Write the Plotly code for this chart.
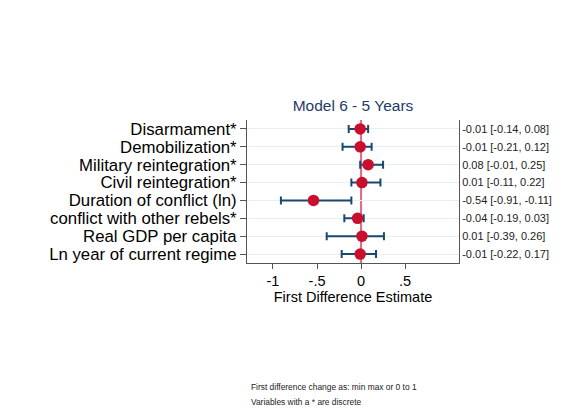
import plotly.graph_objects as go

# Coefficient data: first-difference estimates with 95% intervals
variables = [
    "Disarmament*",
    "Demobilization*",
    "Military reintegration*",
    "Civil reintegration*",
    "Duration of conflict (ln)",
    "conflict with other rebels*",
    "Real GDP per capita",
    "Ln year of current regime",
]
estimates = [-0.01, -0.01, 0.08, 0.01, -0.54, -0.04, 0.01, -0.01]
ci_low = [-0.14, -0.21, -0.01, -0.11, -0.91, -0.19, -0.39, -0.22]
ci_high = [0.08, 0.12, 0.25, 0.22, -0.11, 0.03, 0.26, 0.17]

x_tick_vals = [-1, -0.5, 0, 0.5]
x_tick_text = ["-1", "-.5", "0", ".5"]

positions = list(range(1, len(variables) + 1))
ci_labels = [f"{e:.2f} [{lo:.2f}, {hi:.2f}]" for e, lo, hi in zip(estimates, ci_low, ci_high)]

FONT = "Liberation Sans, Arial, Helvetica, sans-serif"
NAVY = "#1a476f"
RED = "#c8102e"

fig = go.Figure()

fig.add_vline(x=0, line=dict(color="rgba(214,40,70,0.7)", width=2), layer="below")

fig.add_trace(go.Scatter(
    x=estimates,
    y=positions,
    mode="markers",
    marker=dict(color=RED, size=11.5, line=dict(width=0)),
    error_x=dict(
        type="data",
        symmetric=False,
        array=[h - e for h, e in zip(ci_high, estimates)],
        arrayminus=[e - l for e, l in zip(estimates, ci_low)],
        color=NAVY,
        thickness=2,
        width=4,
    ),
    showlegend=False,
    hoverinfo="skip",
))

# invisible trace anchoring the right-hand label axis
fig.add_trace(go.Scatter(
    x=estimates, y=positions, yaxis="y2", mode="markers",
    marker=dict(opacity=0), showlegend=False, hoverinfo="skip",
))

fig.update_layout(
    width=574,
    height=419,
    margin=dict(l=247, r=115, t=120, b=156),
    paper_bgcolor="white",
    plot_bgcolor="white",
    font=dict(family=FONT, color="black"),
    title=dict(
        text="Model 6 - 5 Years",
        x=0.5, xref="paper", xanchor="center",
        y=1 - 106 / 419, yref="container", yanchor="middle",
        font=dict(size=15.5, color="#1f3a68", family=FONT),
    ),
    xaxis=dict(
        range=[-1.295, 1.112],
        tickvals=x_tick_vals,
        ticktext=x_tick_text,
        ticks="outside",
        ticklen=5,
        tickcolor="#555",
        tickfont=dict(size=14.5),
        showline=True,
        linecolor="#555",
        linewidth=1,
        showgrid=False,
        zeroline=False,
        title=dict(text="First Difference Estimate", font=dict(size=14.5), standoff=3),
    ),
    yaxis=dict(
        range=[len(variables) + 0.5, 0.5],
        tickvals=positions,
        ticktext=variables,
        ticks="outside",
        ticklen=6,
        tickcolor="#555",
        tickfont=dict(size=16.8),
        showline=True,
        linecolor="#555",
        linewidth=1,
        showgrid=True,
        gridcolor="#e6eff1",
        gridwidth=1,
        zeroline=False,
    ),
    yaxis2=dict(
        overlaying="y",
        side="right",
        range=[len(variables) + 0.5, 0.5],
        tickvals=positions,
        ticktext=ci_labels,
        ticks="",
        tickfont=dict(size=11, color="#222"),
        showline=True,
        linecolor="#555",
        linewidth=1,
        showgrid=False,
        zeroline=False,
    ),
    annotations=[
        dict(text="First difference change as: min max or 0 to 1",
             xref="paper", yref="paper", x=0.01, y=(262.7 - 387) / 143.2,
             xanchor="left", yanchor="middle", showarrow=False,
             font=dict(size=8.4, color="#222")),
        dict(text="Variables with a * are discrete",
             xref="paper", yref="paper", x=0.01, y=(262.7 - 402) / 143.2,
             xanchor="left", yanchor="middle", showarrow=False,
             font=dict(size=8.4, color="#222")),
    ],
)

fig.write_html("out.html")
